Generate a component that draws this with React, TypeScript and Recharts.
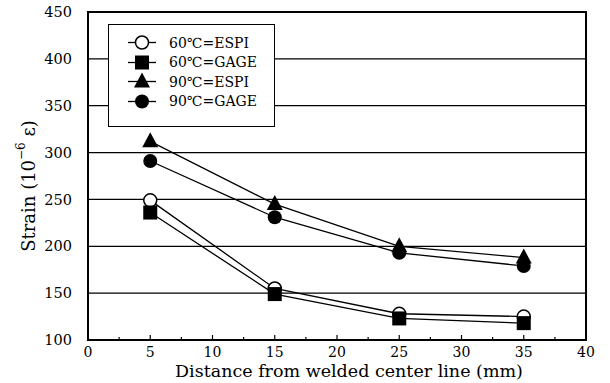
import { LineChart, Line, XAxis, YAxis, CartesianGrid, ReferenceArea } from "recharts";

const distances = [5, 15, 25, 35];
const espi60 = [249, 155, 128, 125];
const gage60 = [236, 149, 123, 118];
const espi90 = [312, 245, 200, 188];
const gage90 = [291, 231, 193, 179];

const xTicks = [0, 2.5, 5, 7.5, 10, 12.5, 15, 17.5, 20, 22.5, 25, 27.5, 30, 32.5, 35, 37.5, 40];
const yTicks = [100, 150, 200, 250, 300, 350, 400, 450];

const rows = distances.map((d, i) => ({
  d,
  espi60: espi60[i],
  gage60: gage60[i],
  espi90: espi90[i],
  gage90: gage90[i],
}));

const FONT = "'DejaVu Serif', 'Noto Sans CJK JP', serif";

type Kind = "openCircle" | "square" | "triangle" | "circle";

function Marker({ kind, cx, cy }: { kind: Kind; cx: number; cy: number }) {
  if (kind === "openCircle") return <circle cx={cx} cy={cy} r={6.5} fill="#fff" stroke="#000" strokeWidth={1.5} />;
  if (kind === "square") return <rect x={cx - 7} y={cy - 7} width={14} height={14} fill="#000" />;
  if (kind === "triangle")
    return <polygon points={`${cx},${cy - 9} ${cx + 8},${cy + 6} ${cx - 8},${cy + 6}`} fill="#000" />;
  return <circle cx={cx} cy={cy} r={7} fill="#000" />;
}

const series: { key: string; name: string; kind: Kind }[] = [
  { key: "espi60", name: "60℃=ESPI", kind: "openCircle" },
  { key: "gage60", name: "60℃=GAGE", kind: "square" },
  { key: "espi90", name: "90℃=ESPI", kind: "triangle" },
  { key: "gage90", name: "90℃=GAGE", kind: "circle" },
];

function XTick(props: any) {
  const { x, y, payload } = props;
  const major = payload.value % 5 === 0;
  return (
    <g>
      <line x1={x} y1={y} x2={x} y2={y - (major ? 5 : 3)} stroke="#000" strokeWidth={1.2} />
      {major && (
        <text x={x} y={y + 17} textAnchor="middle" fontSize={14} fontFamily={FONT} fill="#000">
          {payload.value}
        </text>
      )}
    </g>
  );
}

function LegendBox() {
  return (
    <div
      style={{
        position: "absolute",
        left: 108,
        top: 24,
        width: 167,
        height: 103,
        border: "1.5px solid #000",
        background: "#fff",
        boxSizing: "border-box",
        paddingTop: 8,
      }}
    >
      {series.map((s) => (
        <div key={s.key} style={{ display: "flex", alignItems: "center", height: 19.5 }}>
          <svg width={60} height={19} style={{ display: "block" }}>
            <line x1={19} y1={9.5} x2={47} y2={9.5} stroke="#000" strokeWidth={1.3} />
            <Marker kind={s.kind} cx={33} cy={9.5} />
          </svg>
          <span style={{ fontFamily: FONT, fontSize: 14, color: "#000", marginLeft: 0 }}>{s.name}</span>
        </div>
      ))}
    </div>
  );
}

function YLabel(props: any) {
  const { viewBox } = props;
  const x = viewBox.x - 10;
  const y = viewBox.y + viewBox.height / 2 + 10;
  return (
    <text
      x={x}
      y={y}
      transform={`rotate(-90 ${x} ${y})`}
      textAnchor="middle"
      dominantBaseline="central"
      fontSize={18}
      fontFamily={FONT}
      fill="#000"
    >
      Strain (10
      <tspan baselineShift="super" fontSize={12}>
        −6
      </tspan>
      {" ε)"}
    </text>
  );
}

function XLabel(props: any) {
  const { viewBox } = props;
  const x = viewBox.x + viewBox.width / 2 + 12;
  const y = viewBox.y + viewBox.height - 6;
  return (
    <text x={x} y={y} textAnchor="middle" fontSize={17.5} fontFamily={FONT} fill="#000">
      Distance from welded center line (mm)
    </text>
  );
}

export default function App() {
  return (
    <div style={{ position: "absolute", left: 0, top: 0, width: 610, height: 383, background: "#fff" }}>
      <LineChart width={610} height={383} data={rows} margin={{ top: 12, right: 24, left: 38, bottom: 0 }}>
        <CartesianGrid horizontal vertical={false} stroke="#000" strokeWidth={1.2} />
        <XAxis
          dataKey="d"
          type="number"
          domain={[0, 40]}
          ticks={xTicks}
          interval={0}
          height={43}
          tickSize={0}
          tickMargin={0}
          tickLine={false}
          axisLine={false}
          tick={<XTick />}
          label={<XLabel />}
        />
        <YAxis
          type="number"
          domain={[100, 450]}
          ticks={yTicks}
          interval={0}
          width={50}
          tickLine={false}
          axisLine={false}
          tickMargin={10}
          tick={{ fontSize: 14.5, fontFamily: FONT, fill: "#000" }}
          label={<YLabel />}
        />
        <ReferenceArea x1={0} x2={40} y1={100} y2={450} fill="none" stroke="#000" strokeWidth={2} />
        {series.map((s) => (
          <Line
            key={s.key}
            dataKey={s.key}
            name={s.name}
            stroke="#000"
            strokeWidth={1.3}
            isAnimationActive={false}
            dot={(p: any) => <Marker key={`${s.key}-${p.index}`} kind={s.kind} cx={p.cx} cy={p.cy} />}
            activeDot={false}
          />
        ))}
      </LineChart>
      <LegendBox />
    </div>
  );
}
